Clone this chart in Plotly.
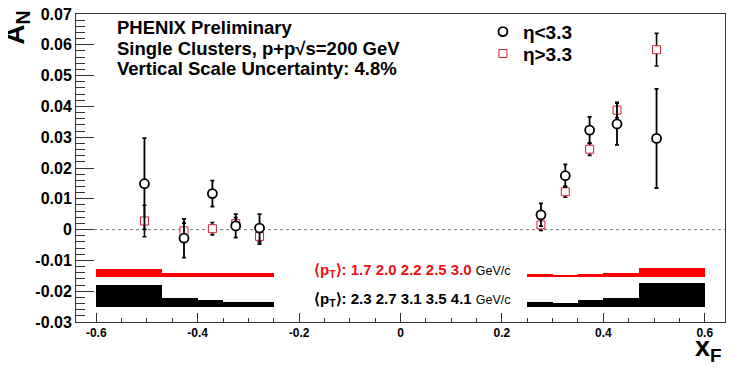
import plotly.graph_objects as go

# ---------------- data ----------------
xf_points = [-0.505, -0.427, -0.371, -0.325, -0.278, 0.277, 0.325, 0.373, 0.427, 0.505]

an_eta_low = [0.0149, -0.0028, 0.0117, 0.0012, 0.0005, 0.0048, 0.0175, 0.0323, 0.0343, 0.0296]
err_eta_low = [0.0148, 0.0063, 0.0042, 0.0038, 0.0045, 0.0037, 0.0037, 0.0043, 0.0068, 0.0161]

an_eta_high = [0.0028, -0.0004, 0.0003, 0.0019, -0.0022, 0.0015, 0.0123, 0.0261, 0.0388, 0.0584]
err_eta_high = [0.0051, 0.0025, 0.0020, 0.0020, 0.0025, 0.0018, 0.0018, 0.0020, 0.0025, 0.0053]

band_edges_left = [-0.6, -0.47, -0.4, -0.35, -0.3, -0.25]
band_edges_right = [0.25, 0.3, 0.35, 0.4, 0.47, 0.6]

red_band_base = -0.0154
red_band_top = [-0.0127, -0.0141, -0.0141, -0.0141, -0.0140,
                -0.0143, -0.0146, -0.0144, -0.0141, -0.0125]
black_band_base = -0.0252
black_band_top = [-0.0179, -0.0222, -0.0230, -0.0235, -0.0234,
                  -0.0235, -0.0238, -0.0230, -0.0221, -0.0174]

pt_eta_high = ["1.7", "2.0", "2.2", "2.5", "3.0"]
pt_eta_low = ["2.3", "2.7", "3.1", "3.5", "4.1"]

x_tickvals = [-0.6, -0.4, -0.2, 0, 0.2, 0.4, 0.6]
x_ticktext = ["-0.6", "-0.4", "-0.2", "0", "0.2", "0.4", "0.6"]
y_tickvals = [-0.03, -0.02, -0.01, 0, 0.01, 0.02, 0.03, 0.04, 0.05, 0.06, 0.07]
y_ticktext = ["-0.03", "-0.02", "-0.01", "0", "0.01", "0.02", "0.03", "0.04", "0.05", "0.06", "0.07"]

header_lines = ["PHENIX Preliminary",
                "Single Clusters, p+p\u221As=200 GeV",
                "Vertical Scale Uncertainty: 4.8%"]

# ---------------- figure ----------------
FONT = "Liberation Sans, Arial, Helvetica, sans-serif"
RED = "#ff0000"
SQ_RED = "#cc1f2f"
AX = "#333333"

centers, widths = [], []
for edges in [band_edges_left, band_edges_right]:
    for a, b in zip(edges[:-1], edges[1:]):
        centers.append((a + b) / 2)
        widths.append(b - a)

fig = go.Figure()

fig.add_trace(go.Bar(
    x=centers, width=widths, base=[red_band_base] * len(centers),
    y=[t - red_band_base for t in red_band_top],
    marker=dict(color=RED, line=dict(width=0)), showlegend=False, hoverinfo="skip"))
fig.add_trace(go.Bar(
    x=centers, width=widths, base=[black_band_base] * len(centers),
    y=[t - black_band_base for t in black_band_top],
    marker=dict(color="black", line=dict(width=0)), showlegend=False, hoverinfo="skip"))

# eta > 3.3 (red squares)
fig.add_trace(go.Scatter(
    x=xf_points, y=an_eta_high, mode="markers", name="\u03b7>3.3",
    marker=dict(symbol="square", size=8, color="white", line=dict(color=SQ_RED, width=1)),
    error_y=dict(type="data", array=err_eta_high, color="black", thickness=1.6, width=2),
    legend="legend2"))

# eta < 3.3 (black circles)
fig.add_trace(go.Scatter(
    x=xf_points, y=an_eta_low, mode="markers", name="\u03b7<3.3",
    marker=dict(symbol="circle", size=9, color="white", line=dict(color="black", width=1.8)),
    error_y=dict(type="data", array=err_eta_low, color="black", thickness=1.8, width=2),
    legend="legend"))

fig.add_shape(type="line", xref="paper", x0=0, x1=1, yref="y", y0=0, y1=0,
              line=dict(color="#777777", width=1, dash="dot"), layer="below")

ann = []
for txt, yp in zip(header_lines, [0.957, 0.889, 0.824]):
    ann.append(dict(xref="paper", yref="paper", x=0.060, y=yp, xanchor="left", yanchor="middle",
                    text=txt, showarrow=False,
                    font=dict(family=FONT, size=18.5, color="black", weight="bold")))

ann.append(dict(xref="paper", yref="paper", x=0.364, y=0.167, xanchor="left", yanchor="middle",
                text="<b>\u27e8p<sub>T</sub>\u27e9: " + " ".join(pt_eta_high) + "</b> "
                     "<span style='font-size:12.5px;color:black'>GeV/c</span>",
                showarrow=False, font=dict(family=FONT, size=15, color="#ee1111")))
ann.append(dict(xref="paper", yref="paper", x=0.364, y=0.073, xanchor="left", yanchor="middle",
                text="<b>\u27e8p<sub>T</sub>\u27e9: " + " ".join(pt_eta_low) + "</b> "
                     "<span style='font-size:12.5px'>GeV/c</span>",
                showarrow=False, font=dict(family=FONT, size=15, color="black")))

ann.append(dict(xref="paper", yref="paper", x=-0.091, y=0.955, xanchor="center", yanchor="middle",
                text="<b>A<sub>N</sub></b>", textangle=-90, showarrow=False,
                font=dict(family=FONT, size=28, color="black")))
ann.append(dict(xref="paper", yref="paper", x=0.9985, y=-0.089, xanchor="right", yanchor="middle",
                text="<b>x<sub>F</sub></b>", showarrow=False,
                font=dict(family=FONT, size=27, color="black")))

# page body has an 8px margin: figure is drawn 8px smaller and shifted
fig.update_layout(
    width=733, height=362,
    margin=dict(l=68, r=16, t=5.5, b=47.5, autoexpand=False),
    paper_bgcolor="white", plot_bgcolor="white",
    barmode="overlay", bargap=0,
    annotations=ann,
    legend=dict(x=0.627, y=1.004, xanchor="left", yanchor="top",
                font=dict(family=FONT, size=19, color="black", weight="bold"),
                bgcolor="rgba(0,0,0,0)", itemwidth=30),
    legend2=dict(x=0.627, y=0.933, xanchor="left", yanchor="top",
                 font=dict(family=FONT, size=19, color="black", weight="bold"),
                 bgcolor="rgba(0,0,0,0)", itemwidth=30),
    xaxis=dict(range=[-0.64, 0.64], tickvals=x_tickvals, ticktext=x_ticktext,
               ticks="inside", ticklen=9, tickwidth=1, tickcolor=AX,
               minor=dict(dtick=0.05, tick0=0, ticks="inside", ticklen=4.5, tickcolor=AX, showgrid=False),
               showgrid=False, zeroline=False, showline=True, linecolor=AX, linewidth=1, mirror=True,
               tickfont=dict(family=FONT, size=12, color="black", weight="bold")),
    yaxis=dict(range=[-0.03, 0.07], tickvals=y_tickvals, ticktext=y_ticktext,
               ticks="inside", ticklen=18, tickwidth=1, tickcolor=AX,
               minor=dict(dtick=0.002, tick0=0, ticks="inside", ticklen=9, tickcolor=AX, showgrid=False),
               showgrid=False, zeroline=False, showline=True, linecolor=AX, linewidth=1, mirror=True,
               ticklabeloverflow="allow",
               tickfont=dict(family=FONT, size=16, color="black", weight="bold")),
)

fig.write_html("out.html")
